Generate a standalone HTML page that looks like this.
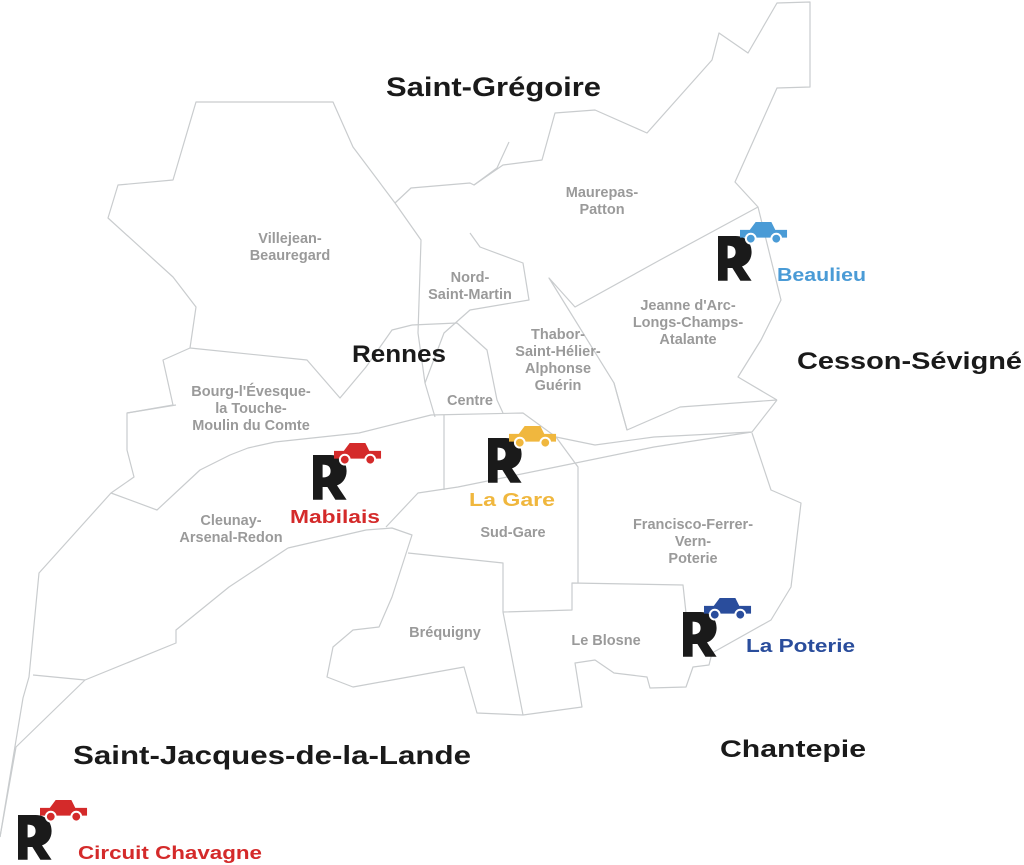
<!DOCTYPE html>
<html><head><meta charset="utf-8"><style>
html,body{margin:0;padding:0;background:#fff;}
svg{display:block;}
.b{fill:none;stroke:#c9ccce;stroke-width:1.2;stroke-linejoin:round;}
.l{font-family:"Liberation Sans",sans-serif;font-size:14.5px;fill:#9a9a9a;font-weight:bold;text-anchor:middle;}
.c{font-family:"Liberation Sans",sans-serif;font-weight:bold;fill:#1a1a1a;}
.s{font-family:"Liberation Sans",sans-serif;font-weight:bold;font-size:18px;}
</style></head><body>
<svg width="1024" height="865" viewBox="0 0 1024 865" xmlns="http://www.w3.org/2000/svg">
<defs>
<g id="R"><path d="M0 0 H22 C36 0 42 10 42 20 C42 30 36 36 30 38 L42 56 H28 L18 40 H12 V56 H0 Z M12 12 V28 C18 28 22 26 22 20 C22 14 18 12 12 12 Z" fill="#1a1a1a"/></g>
<g id="car"><path d="M0 14 V8 H10 L16 0 H32 L36 8 H48 V16 H0 Z"/><circle cx="11" cy="17" r="5" stroke="#fff" stroke-width="2"/><circle cx="37" cy="17" r="5" stroke="#fff" stroke-width="2"/></g>
</defs>
<polyline class="b" points="190,348 196,307 173,277 108,218 118,185 173,180 196,102 333,102 353,147 395,203 421,240 418,333 425,383 435,417"/>
<polyline class="b" points="190,348 163,360 173,405 127,413 127,450 134,477 111,493 39,573 29,677 23,698 0,837"/>
<polyline class="b" points="395,203 411,188 470,183 474,185 497,168 509,142"/>
<polyline class="b" points="474,185 503,165 542,160 555,113 595,110 647,133 712,60 719,33 748,53 777,3 810,2 810,87 777,88 735,182 758,207 781,300 761,340 738,377 777,400"/>
<polyline class="b" points="758,207 660,260 575,307 549,278 614,383 627,430"/>
<polyline class="b" points="470,233 480,247 523,263 529,300 470,310 444,333 425,383"/>
<polyline class="b" points="412,325 457,323 487,350 497,400 503,413"/>
<polyline class="b" points="190,348 307,360 340,398 366,367 392,330 412,325"/>
<polyline class="b" points="127,413 176,405"/>
<polyline class="b" points="111,493 157,510 200,470 230,455 248,448 275,442 359,433 431,415 523,413 556,437 595,445 654,437 752,432 777,400"/>
<polyline class="b" points="614,383 627,430 680,407 777,400"/>
<polyline class="b" points="386,527 418,493 458,487 556,467 654,447 752,432"/>
<polyline class="b" points="288,548 366,530 392,528 412,535 392,597 379,627 353,630 333,647 327,677 353,687 392,680 464,667 477,713 523,715 582,707 575,663 595,660 614,673 647,677 650,688 686,687 693,667 709,665 712,653 771,620 791,587 801,503 771,490 752,433"/>
<polyline class="b" points="408,553 503,563 503,612 523,715"/>
<polyline class="b" points="503,612 572,610 572,583 683,585 686,613"/>
<polyline class="b" points="578,583 578,467 556,437"/>
<polyline class="b" points="444,415 444,490"/>
<polyline class="b" points="288,548 229,587 176,630 176,643 85,680 33,675"/>
<polyline class="b" points="85,680 16,747 0,837"/>
<text class="c" x="386" y="96" font-size="27" textLength="215" lengthAdjust="spacingAndGlyphs">Saint-Grégoire</text>
<text class="l" x="290" y="243">Villejean-</text><text class="l" x="290" y="260">Beauregard</text>
<text class="l" x="602" y="197">Maurepas-</text><text class="l" x="602" y="214">Patton</text>
<text class="l" x="470" y="282">Nord-</text><text class="l" x="470" y="299">Saint-Martin</text>
<text class="l" x="688" y="310">Jeanne d'Arc-</text><text class="l" x="688" y="327">Longs-Champs-</text><text class="l" x="688" y="344">Atalante</text>
<text class="c" x="352" y="362" font-size="24" textLength="94" lengthAdjust="spacingAndGlyphs">Rennes</text>
<text class="l" x="558" y="339">Thabor-</text><text class="l" x="558" y="356">Saint-Hélier-</text><text class="l" x="558" y="373">Alphonse</text><text class="l" x="558" y="390">Guérin</text>
<text class="c" x="797" y="369" font-size="24" textLength="225" lengthAdjust="spacingAndGlyphs">Cesson-Sévigné</text>
<text class="l" x="251" y="396">Bourg-l'Évesque-</text><text class="l" x="251" y="413">la Touche-</text><text class="l" x="251" y="430">Moulin du Comte</text>
<text class="l" x="470" y="405">Centre</text>
<text class="l" x="231" y="525">Cleunay-</text><text class="l" x="231" y="542">Arsenal-Redon</text>
<text class="l" x="513" y="537">Sud-Gare</text>
<text class="l" x="693" y="529">Francisco-Ferrer-</text><text class="l" x="693" y="546">Vern-</text><text class="l" x="693" y="563">Poterie</text>
<text class="l" x="445" y="637">Bréquigny</text>
<text class="l" x="606" y="645">Le Blosne</text>
<text class="c" x="73" y="764" font-size="26" textLength="398" lengthAdjust="spacingAndGlyphs">Saint-Jacques-de-la-Lande</text>
<text class="c" x="720" y="757" font-size="24" textLength="146" lengthAdjust="spacingAndGlyphs">Chantepie</text>
<use href="#R" transform="translate(313,455) scale(0.8)"/><use href="#car" fill="#d42a2a" transform="translate(334,443) scale(0.98)"/>
<text class="s" x="290" y="523" fill="#d42a2a" textLength="90" lengthAdjust="spacingAndGlyphs">Mabilais</text>
<use href="#R" transform="translate(488,438) scale(0.8)"/><use href="#car" fill="#f0b73e" transform="translate(509,426) scale(0.98)"/>
<text class="s" x="469" y="506" fill="#f0b73e" textLength="86" lengthAdjust="spacingAndGlyphs">La Gare</text>
<use href="#R" transform="translate(718,236) scale(0.8)"/><use href="#car" fill="#4a9bd6" transform="translate(740,222) scale(0.98)"/>
<text class="s" x="777" y="281" fill="#4a9bd6" textLength="89" lengthAdjust="spacingAndGlyphs">Beaulieu</text>
<use href="#R" transform="translate(683,612) scale(0.8)"/><use href="#car" fill="#2a4d9c" transform="translate(704,598) scale(0.98)"/>
<text class="s" x="746" y="652" fill="#2a4d9c" textLength="109" lengthAdjust="spacingAndGlyphs">La Poterie</text>
<use href="#R" transform="translate(18,815) scale(0.8)"/><use href="#car" fill="#d42a2a" transform="translate(40,800) scale(0.98)"/>
<text class="s" x="78" y="859" fill="#d42a2a" textLength="184" lengthAdjust="spacingAndGlyphs">Circuit Chavagne</text>
</svg>
</body></html>
